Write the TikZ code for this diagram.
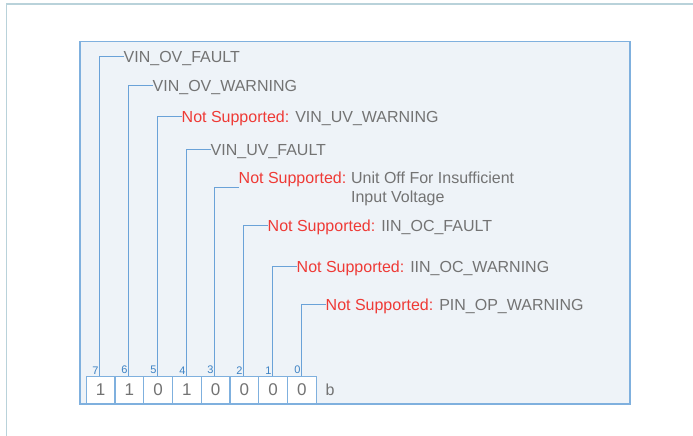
\documentclass[tikz,border=0pt]{standalone}
\usepackage{fontspec}
\setmainfont{Liberation Sans}
\definecolor{frameteal}{HTML}{B9D2DA}
\definecolor{panelfill}{HTML}{EEF3F8}
\definecolor{paneledge}{HTML}{7FB0DE}
\definecolor{linkblue}{HTML}{6AA2D8}
\definecolor{txtgray}{HTML}{737373}
\definecolor{nsred}{HTML}{EE3A36}
\definecolor{numblue}{HTML}{3D82C4}
\begin{document}
\begin{tikzpicture}[x=1pt,y=-1pt,
  lbl/.style={anchor=west,inner sep=0pt,text=txtgray,font=\fontsize{16}{19}\selectfont,text height=11.5pt,text depth=0pt},
  bitbox/.style={draw=paneledge,fill=white,line width=1.2pt,minimum width=28.75pt,minimum height=27pt,inner sep=0pt,anchor=north west,text=txtgray,font=\fontsize{17}{20}\selectfont},
  bitnum/.style={anchor=south east,inner sep=0pt,text=numblue,font=\fontsize{11}{12}\selectfont},
  link/.style={draw=linkblue,line width=1.2pt}]
\useasboundingbox (0,0) rectangle (693,436);
% outer frame
\draw[frameteal,line width=1.8pt] (6.5,436) -- (6.5,4) -- (693,4);
% panel
\node[draw=paneledge,fill=panelfill,line width=1.5pt,anchor=north west,minimum width=550pt,minimum height=362pt,inner sep=0pt] (panel) at (79,41) {};
% bit boxes
\foreach \v [count=\i from 0] in {1,1,0,1,0,0,0,0}{
  \node[bitbox] (b\i) at (85.7+28.75*\i,376) {\v};
}
\node[lbl,anchor=center,text height=11.5pt] (bsuf) at (330,389.5) {b};
% bit numbers and stub coordinates
\foreach \n/\x [count=\i from 0] in {7/99.5,6/128.5,5/157.5,4/186.5,3/214.5,2/243.5,1/272.5,0/301.5}{
  \coordinate (t\i) at (\x,376);
  \node[bitnum] (n\i) at (\x-0.7,374.3) {\n};
}
% labels
\node[lbl] (l0) at (123.5,56.5) {VIN\_OV\_FAULT};
\node[lbl] (l1) at (152.5,85.5) {VIN\_OV\_WARNING};
\node[lbl] (l2) at (181.5,116.5) {\textcolor{nsred}{Not Supported:} VIN\_UV\_WARNING};
\node[lbl] (l3) at (210.5,149.5) {VIN\_UV\_FAULT};
\node[lbl,text=nsred] (l4) at (238.5,177.7) {Not Supported:};
\node[lbl] (l4a) at ([xshift=4.4pt]l4.east) {Unit Off For Insufficient};
\node[lbl] (l4b) at (l4a.west |- 0,197) {Input Voltage};
\node[lbl] (l5) at (267.5,225.5) {\textcolor{nsred}{Not Supported:} IIN\_OC\_FAULT};
\node[lbl] (l6) at (296.5,266.5) {\textcolor{nsred}{Not Supported:} IIN\_OC\_WARNING};
\node[lbl] (l7) at (325.5,304.5) {\textcolor{nsred}{Not Supported:} PIN\_OP\_WARNING};
% connectors
\draw[link] (t0) |- (l0.west);
\draw[link] (t1) |- (l1.west);
\draw[link] (t2) |- (l2.west);
\draw[link] (t3) |- (l3.west);
\draw[link] (t4) |- (l4.west |- 0,187.5);
\draw[link] (t5) |- (l5.west);
\draw[link] (t6) |- (l6.west);
\draw[link] (t7) |- (l7.west);
\end{tikzpicture}
\end{document}
